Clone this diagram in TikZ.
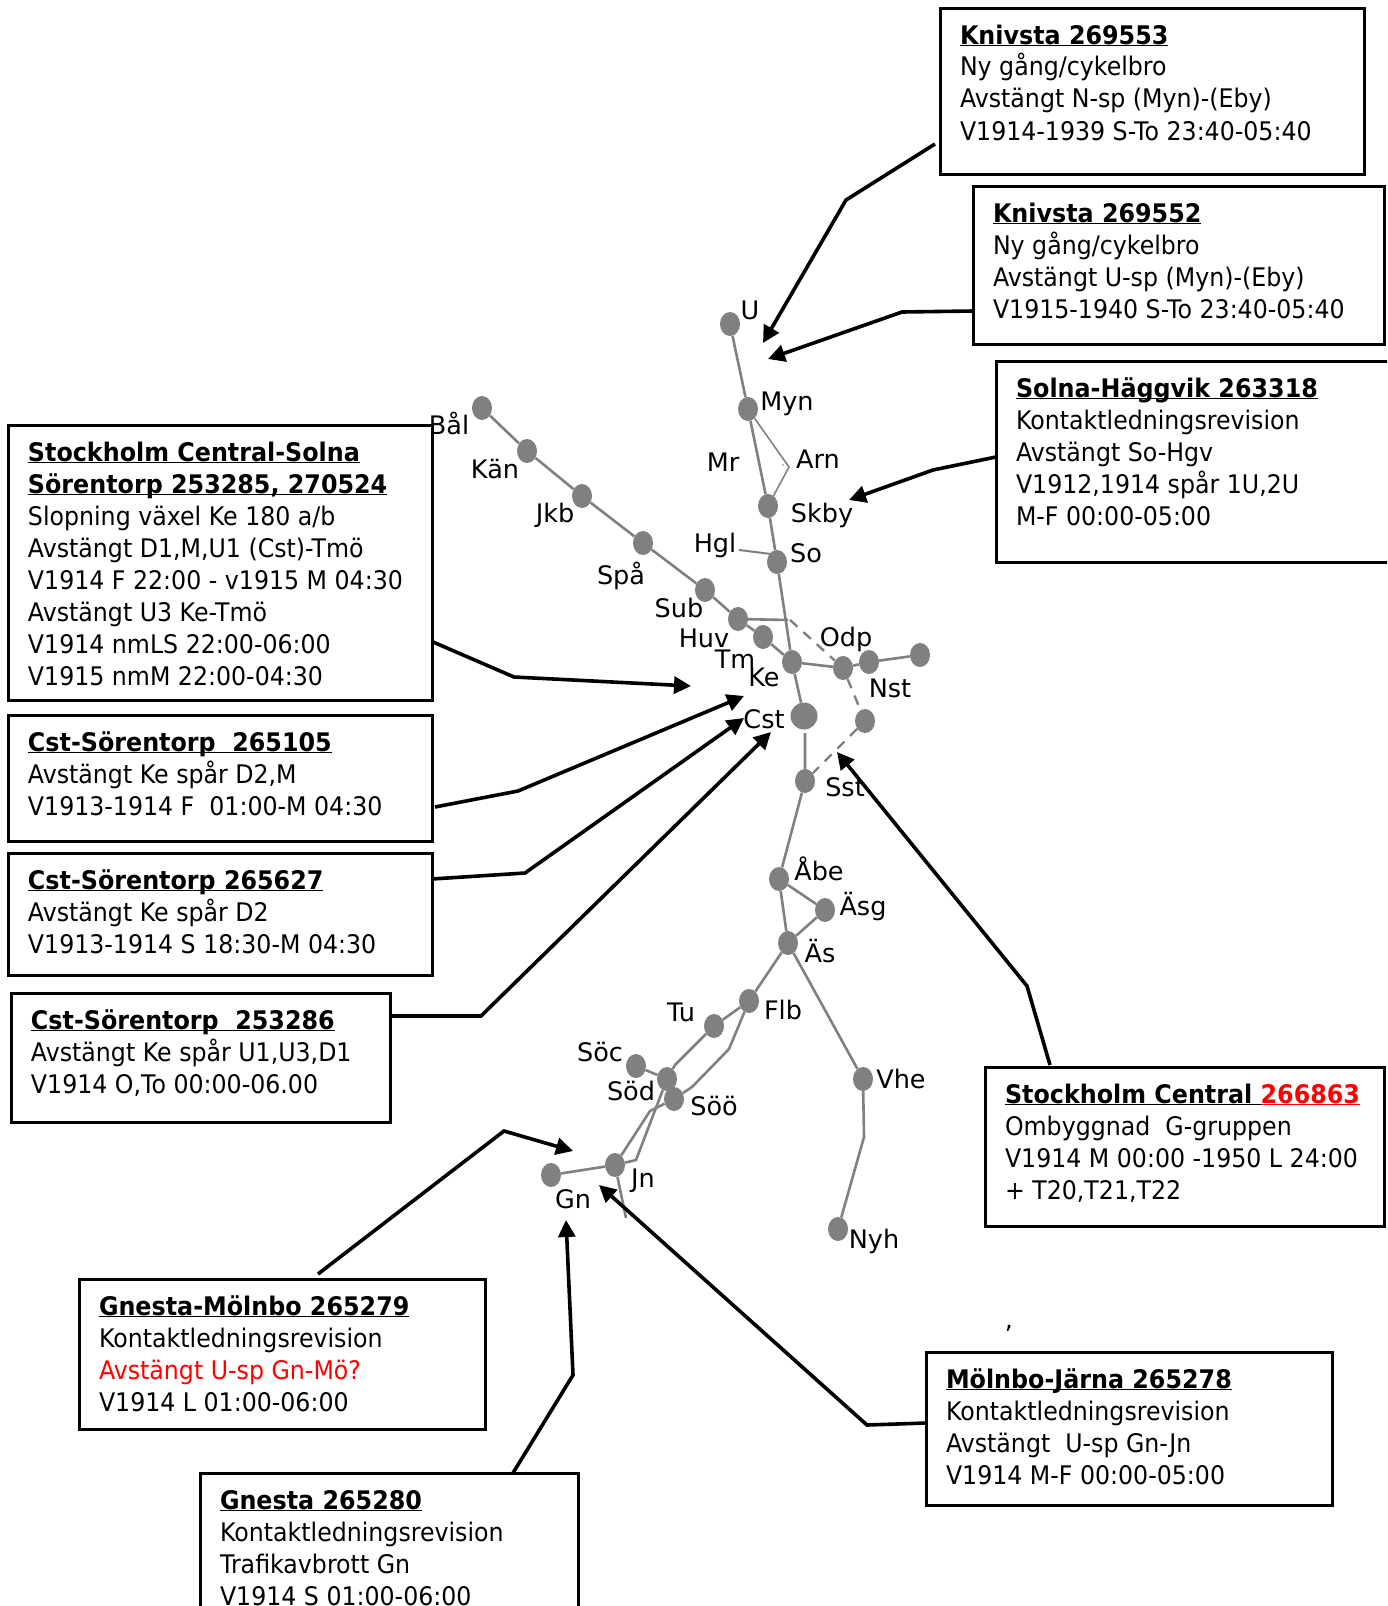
\documentclass[tikz,border=0pt]{standalone}
\usepackage{fontspec}
\usetikzlibrary{shapes.geometric,arrows.meta}
\setmainfont{DejaVu Sans}
\newfontfamily\boxfont{DejaVu Sans}[FakeStretch=0.925,BoldFeatures={FakeStretch=0.93}]
\newcommand{\ttl}[1]{{\bfseries\underline{\smash{#1}}}}
\newcommand{\boxbody}[3]{\parbox[t][#2pt][t]{#1pt}{\boxfont\fontsize{25.6}{32}\selectfont\leftskip=20pt\rightskip=0pt plus 1fil\parindent=0pt\parfillskip=0pt plus 1fil\hbadness=10000 \rule{0pt}{36pt}#3}}
\tikzset{
  x=1pt,y=-1pt,
  box/.style={draw=black,line width=3pt,inner sep=0pt,outer sep=0pt,anchor=north west},
  stn/.style={ellipse,fill=stgray,minimum width=20pt,minimum height=24pt,inner sep=0pt},
  stnbig/.style={circle,fill=stgray,minimum size=27pt,inner sep=0pt},
  lbl/.style={font=\fontsize{25.5}{30}\selectfont,inner sep=0pt,text=black},
  track/.style={draw=stgray,line width=2.6pt},
  thintrack/.style={draw=stgray,line width=1.6pt},
  dashtrack/.style={draw=stgray,line width=2.4pt,dash pattern=on 10pt off 8pt},
  call/.style={draw=black,line width=3.6pt,-{Triangle[length=17pt,width=17pt]}},
}
\definecolor{stgray}{HTML}{808080}
\begin{document}
\begin{tikzpicture}
\useasboundingbox (0,0) rectangle (1387,1606);
\clip (0,0) rectangle (1387,1606);
% stations
\node[stn] (U) at (730,324) {};
\node[stn] (Myn) at (748,409) {};
\node[stn] (Skby) at (768,506) {};
\node[stn] (So) at (777,562) {};
\node[stn] (Bal) at (482,408) {};
\node[stn] (Kan) at (527,451) {};
\node[stn] (Jkb) at (582,496) {};
\node[stn] (Spa) at (643,543) {};
\node[stn] (Sub) at (705,590) {};
\node[stn] (Huv) at (738,619) {};
\node[stn] (Tm) at (763,637) {};
\node[stn] (Ke) at (792,662) {};
\node[stn] (Odp) at (843,668) {};
\node[stn] (Nst) at (869,662) {};
\node[stn] (Far) at (920,655) {};
\node[stnbig] (Cst) at (804,716) {};
\node[stn] (Dn) at (865,721) {};
\node[stn] (Sst) at (805,781) {};
\node[stn] (Abe) at (779,879) {};
\node[stn] (Asg) at (825,910) {};
\node[stn] (As) at (788,943) {};
\node[stn] (Flb) at (749,1001) {};
\node[stn] (Tu) at (714,1026) {};
\node[stn] (Soc) at (636,1066) {};
\node[stn] (Sod) at (667,1079) {};
\node[stn] (Soo) at (674,1099) {};
\node[stn] (Jn) at (615,1165) {};
\node[stn] (Gn) at (551,1175) {};
\node[stn] (Vhe) at (863,1079) {};
\node[stn] (Nyh) at (838,1229) {};
% track helper points
\coordinate (Arnp) at (789,467);
\coordinate (Hgle) at (739,550);
\coordinate (Hglf) at (771,554);
\coordinate (Hj) at (788,620);
\coordinate (Hd) at (790,620);
\coordinate (Tua) at (675,1065);
\coordinate (Flba) at (729,1049);
\coordinate (Flbb) at (692,1087);
\coordinate (Sooa) at (650,1111);
\coordinate (Soda) at (636,1160);
\coordinate (Jne) at (626,1218);
\coordinate (Vhea) at (864,1137);
\coordinate (Cstb) at (805,733);
% tracks
\path[track] (U)--(Myn)--(Skby)--(So)--(Ke)--(Cst);
\path[track] (Cstb)--(Sst)--(Abe)--(As);
\path[thintrack] (Myn)--(Arnp)--(Skby);
\fill[stgray] (783,465) circle (0.8pt);
\path[track,line width=2pt] (Hgle)--(Hglf);
\path[track] (Bal)--(Kan)--(Jkb)--(Spa)--(Sub)--(Huv)--(Tm)--(Ke)--(Odp)--(Nst)--(Far);
\path[track] (Huv)--(Hj);
\path[dashtrack] (Hd)--(Odp);
\path[dashtrack] (Odp)--(Dn);
\path[dashtrack] (Dn)--(Sst);
\path[track] (Abe)--(Asg)--(As)--(Flb)--(Tu)--(Tua)--(Sod);
\path[track] (Soc)--(Sod);
\path[track] (Flb)--(Flba)--(Flbb)--(Soo);
\path[track] (Soo)--(Sooa)--(Jn);
\path[track] (Sod)--(Soda)--(Jn);
\path[track] (Gn)--(Jn)--(Jne);
\path[track] (As)--(Vhe)--(Vhea)--(Nyh);
% station labels
\node[lbl] (tU) at (750,310) {U};
\node[lbl] (tMyn) at (787,404) {Myn};
\node[lbl] (tMr) at (723,462) {Mr};
\node[lbl] (tArn) at (818,459) {Arn};
\node[lbl] (tSkby) at (822,515) {Skby};
\node[lbl] (tHgl) at (715,545) {Hgl};
\node[lbl] (tSo) at (806,553) {So};
\node[lbl] (tBal) at (449,423) {Bål};
\node[lbl] (tKan) at (495,469) {Kän};
\node[lbl] (tJkb) at (555,515) {Jkb};
\node[lbl] (tSpa) at (621,576) {Spå};
\node[lbl] (tSub) at (679,608) {Sub};
\node[lbl] (tHuv) at (704,638) {Huv};
\node[lbl] (tTm) at (735,659) {Tm};
\node[lbl] (tKe) at (764,677) {Ke};
\node[lbl] (tOdp) at (846,639) {Odp};
\node[lbl] (tNst) at (890,688) {Nst};
\node[lbl] (tCst) at (764,719) {Cst};
\node[lbl] (tSst) at (845,787) {Sst};
\node[lbl] (tAbe) at (819,869) {Åbe};
\node[lbl] (tAsg) at (863,906) {Äsg};
\node[lbl] (tAs) at (820,951) {Äs};
\node[lbl] (tFlb) at (783,1010) {Flb};
\node[lbl] (tTu) at (681,1012) {Tu};
\node[lbl] (tSoc) at (600,1052) {Söc};
\node[lbl] (tSod) at (631,1091) {Söd};
\node[lbl] (tSoo) at (714,1106) {Söö};
\node[lbl] (tJn) at (643,1181) {Jn};
\node[lbl] (tGn) at (573,1199) {Gn};
\node[lbl] (tVhe) at (901,1079) {Vhe};
\node[lbl] (tNyh) at (874,1241) {Nyh};
\node[lbl] (tComma) at (1009,1328) {,};
% boxes
\node[box] (bK1) at (940,8) {\boxbody{424}{166}{\ttl{Knivsta 269553}\\Ny gång/cykelbro\\Avstängt N-sp (Myn)-(Eby)\\V1914-1939 S-To 23:40-05:40}};
\node[box] (bK2) at (973,186) {\boxbody{411}{158}{\ttl{Knivsta 269552}\\Ny gång/cykelbro\\Avstängt U-sp (Myn)-(Eby)\\V1915-1940 S-To 23:40-05:40}};
\node[box] (bSH) at (996,361) {\boxbody{420}{201}{\ttl{Solna-Häggvik 263318}\\Kontaktledningsrevision\\Avstängt So-Hgv\\V1912,1914 spår 1U,2U\\M-F 00:00-05:00}};
\node[box] (bSt) at (8,425) {\boxbody{424}{275}{\ttl{Stockholm Central-Solna}\\\ttl{Sörentorp 253285, 270524}\\Slopning växel Ke 180 a/b\\Avstängt D1,M,U1 (Cst)-Tmö\\V1914 F 22:00 - v1915 M 04:30\\Avstängt U3 Ke-Tmö\\V1914 nmLS 22:00-06:00\\V1915 nmM 22:00-04:30}};
\node[box] (bC1) at (8,715) {\boxbody{424}{126}{\ttl{Cst-Sörentorp~~265105}\\Avstängt Ke spår D2,M\\V1913-1914 F~~01:00-M 04:30}};
\node[box] (bC2) at (8,853) {\boxbody{424}{122}{\ttl{Cst-Sörentorp 265627}\\Avstängt Ke spår D2\\V1913-1914 S 18:30-M 04:30}};
\node[box] (bC3) at (11,993) {\boxbody{379}{129}{\ttl{Cst-Sörentorp~~253286}\\Avstängt Ke spår U1,U3,D1\\V1914 O,To 00:00-06.00}};
\node[box] (bGM) at (79,1279) {\boxbody{406}{150}{\ttl{Gnesta-Mölnbo 265279}\\Kontaktledningsrevision\\\textcolor{red}{Avstängt U-sp Gn-Mö?}\\V1914 L 01:00-06:00}};
\node[box] (bG) at (200,1473) {\boxbody{378}{160}{\ttl{Gnesta 265280}\\Kontaktledningsrevision\\Trafikavbrott Gn\\V1914 S 01:00-06:00}};
\node[box] (bMJ) at (926,1352) {\boxbody{406}{153}{\ttl{Mölnbo-Järna 265278}\\Kontaktledningsrevision\\Avstängt~~U-sp Gn-Jn\\V1914 M-F 00:00-05:00}};
\node[box] (bSC) at (985,1067) {\boxbody{399}{159}{{\bfseries\underline{\smash{Stockholm Central }}\textcolor{red}{\underline{\smash{266863}}}}\\Ombyggnad~~G-gruppen\\V1914 M 00:00 -1950 L 24:00\\+ T20,T21,T22}};
% connector ends
\coordinate (aK1s) at (935,144); \coordinate (aK1m) at (846,200); \coordinate (aK1e) at (763,343);
\coordinate (aK2s) at (973,311); \coordinate (aK2m) at (902,312); \coordinate (aK2e) at (768,359);
\coordinate (aSHs) at (996,457); \coordinate (aSHm) at (933,470); \coordinate (aSHe) at (849,500);
\coordinate (aSts) at (433,642); \coordinate (aStm) at (514,677); \coordinate (aSte) at (691,686);
\coordinate (aC1s) at (435,807); \coordinate (aC1m) at (518,791); \coordinate (aC1e) at (744,696);
\coordinate (aC2s) at (432,879); \coordinate (aC2m) at (525,873); \coordinate (aC2e) at (744,718);
\coordinate (aC3s) at (391,1016); \coordinate (aC3m) at (481,1016); \coordinate (aC3e) at (771,732);
\coordinate (aSCs) at (1050,1065); \coordinate (aSCm) at (1027,986); \coordinate (aSCe) at (837,752);
\coordinate (aGMs) at (318,1274); \coordinate (aGMm) at (504,1131); \coordinate (aGMe) at (573,1151);
\coordinate (aGs) at (513,1473); \coordinate (aGm) at (573,1375); \coordinate (aGe) at (566,1220);
\coordinate (aMJs) at (926,1423); \coordinate (aMJm) at (867,1425); \coordinate (aMJe) at (599,1185);
% connectors
\draw[call] (aK1s)--(aK1m)--(aK1e);
\draw[call] (aK2s)--(aK2m)--(aK2e);
\draw[call] (aSHs)--(aSHm)--(aSHe);
\draw[call] (aSts)--(aStm)--(aSte);
\draw[call] (aC1s)--(aC1m)--(aC1e);
\draw[call] (aC2s)--(aC2m)--(aC2e);
\draw[call] (aC3s)--(aC3m)--(aC3e);
\draw[call] (aSCs)--(aSCm)--(aSCe);
\draw[call] (aGMs)--(aGMm)--(aGMe);
\draw[call] (aGs)--(aGm)--(aGe);
\draw[call] (aMJs)--(aMJm)--(aMJe);
\end{tikzpicture}
\end{document}
